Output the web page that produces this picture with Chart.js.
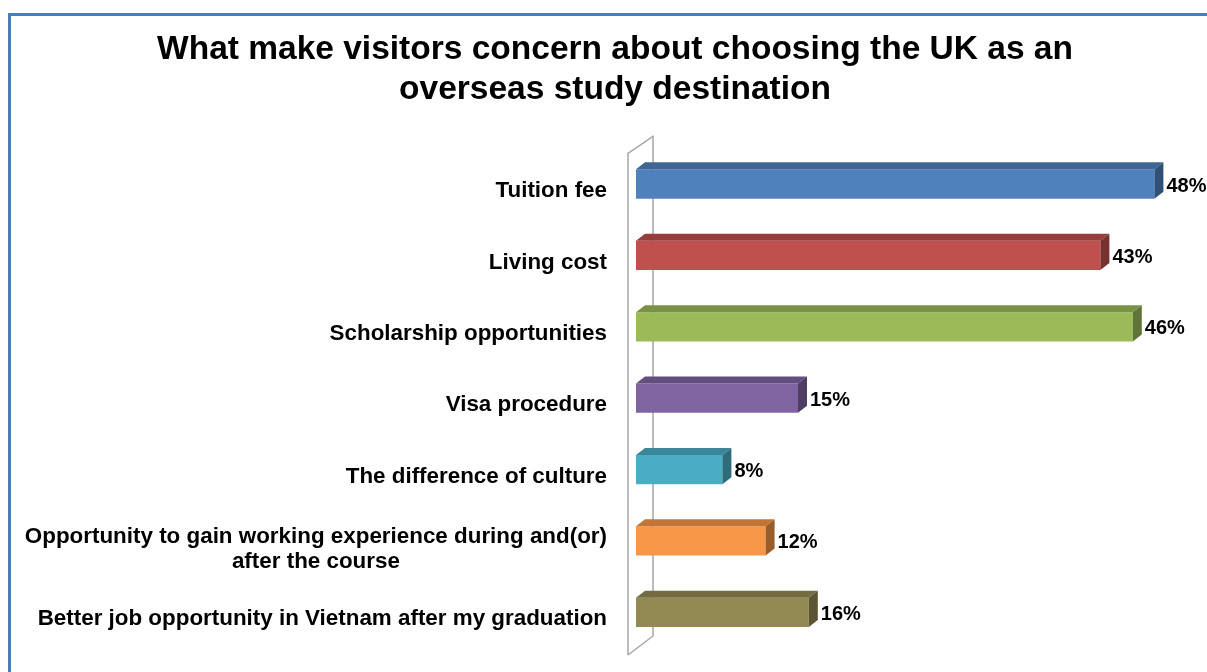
<!DOCTYPE html>
<html>
<head>
<meta charset="utf-8">
<title>UK study concerns</title>
<script src="https://cdn.jsdelivr.net/npm/chart.js@4.4.1/dist/chart.umd.min.js"></script>
<style>
    html, body { margin: 0; padding: 0; background: #fff; }
    #wrap { position: relative; width: 1207px; height: 672px; }
</style>
</head>
<body>
<div id="wrap"><canvas id="concernChart"></canvas></div>
<script>
// --- survey data ---
const categories = [
    'Tuition fee',
    'Living cost',
    'Scholarship opportunities',
    'Visa procedure',
    'The difference of culture',
    ['Opportunity to gain working experience during and(or)', 'after the course'],
    'Better job opportunity in Vietnam after my graduation'
];
const percentages = [48, 43, 46, 15, 8, 12, 16];

// Office-style palette, one colour per bar
const barColors = ['#4F81BD', '#C0504D', '#9BBB59', '#8064A2', '#4BACC6', '#F79646', '#938953'];

const FONT = '"Liberation Sans", Arial, sans-serif';
const DEPTH_X = 9, DEPTH_Y = -7;

function shade(hex, f) {
    const n = parseInt(hex.slice(1), 16);
    const r = Math.round(((n >> 16) & 255) * f);
    const g = Math.round(((n >> 8) & 255) * f);
    const b = Math.round((n & 255) * f);
    return `rgb(${r},${g},${b})`;
}

// frame round the whole chart
const framePlugin = {
    id: 'frame',
    afterDraw(chart) {
        const ctx = chart.ctx;
        ctx.save();
        ctx.strokeStyle = '#4A7EBB';
        ctx.lineWidth = 3;
        ctx.strokeRect(9.5, 14.5, 1240, 700);
        ctx.restore();
    }
};

// the open 3D wall behind the bars
const wallPlugin = {
    id: 'wall',
    beforeDatasetsDraw(chart) {
        const {ctx, chartArea: a} = chart;
        const fx = a.left - 8, bx = a.left + 17;
        ctx.save();
        ctx.strokeStyle = '#A6A6A6';
        ctx.lineWidth = 1.5;
        ctx.beginPath();
        ctx.moveTo(fx, a.bottom + 7);
        ctx.lineTo(fx, a.top + 5);
        ctx.lineTo(bx, a.top - 12);
        ctx.lineTo(bx, a.bottom - 12);
        ctx.lineTo(fx, a.bottom + 7);
        ctx.stroke();
        ctx.restore();
    }
};

// top and side faces, value labels and category labels
const bar3dPlugin = {
    id: 'bar3d',
    afterDatasetsDraw(chart) {
        const ctx = chart.ctx;
        const meta = chart.getDatasetMeta(0);
        ctx.save();
        meta.data.forEach((bar, i) => {
            const p = bar.getProps(['x', 'y', 'base', 'height'], true);
            const x0 = p.base, x1 = p.x;
            const y0 = p.y - p.height / 2, y1 = p.y + p.height / 2;
            const c = barColors[i];

            ctx.fillStyle = shade(c, 0.78);
            ctx.beginPath();
            ctx.moveTo(x0, y0);
            ctx.lineTo(x0 + DEPTH_X, y0 + DEPTH_Y);
            ctx.lineTo(x1 + DEPTH_X, y0 + DEPTH_Y);
            ctx.lineTo(x1, y0);
            ctx.closePath();
            ctx.fill();

            ctx.fillStyle = shade(c, 0.62);
            ctx.beginPath();
            ctx.moveTo(x1, y0);
            ctx.lineTo(x1 + DEPTH_X, y0 + DEPTH_Y);
            ctx.lineTo(x1 + DEPTH_X, y1 + DEPTH_Y);
            ctx.lineTo(x1, y1);
            ctx.closePath();
            ctx.fill();

            ctx.fillStyle = '#000';
            ctx.font = 'bold 20px ' + FONT;
            ctx.textAlign = 'left';
            ctx.textBaseline = 'middle';
            ctx.fillText(percentages[i] + '%', x1 + DEPTH_X + 3, p.y + 2);
        });

        // category names, right aligned; wrapped names centred on their own width
        const yScale = chart.scales.y;
        const right = chart.chartArea.left - 29;
        ctx.font = 'bold 22.4px ' + FONT;
        ctx.textBaseline = 'middle';
        categories.forEach((label, i) => {
            const lines = Array.isArray(label) ? label : [label];
            const yc = yScale.getPixelForValue(i) + (lines.length > 1 ? 8 : 7);
            const lh = 25;
            const widest = Math.max(...lines.map(l => ctx.measureText(l).width));
            lines.forEach((l, k) => {
                const y = yc + (k - (lines.length - 1) / 2) * lh;
                if (lines.length > 1) {
                    ctx.textAlign = 'center';
                    ctx.fillText(l, right - widest / 2, y);
                } else {
                    ctx.textAlign = 'right';
                    ctx.fillText(l, right, y);
                }
            });
        });
        ctx.restore();
    }
};

const ctx = document.getElementById('concernChart').getContext('2d');
new Chart(ctx, {
    type: 'bar',
    data: {
        labels: categories,
        datasets: [{
            data: percentages,
            backgroundColor: barColors,
            borderWidth: 0,
            barPercentage: 0.41,
            categoryPercentage: 1
        }]
    },
    options: {
        indexAxis: 'y',
        responsive: true,
        maintainAspectRatio: false,
        animation: false,
        layout: { padding: { left: 54, right: 31, top: 0, bottom: 24 } },
        scales: {
            x: { display: false, min: 0, max: 50 },
            y: {
                display: true,
                ticks: { display: false },
                grid: { display: false },
                border: { display: false },
                afterFit: scale => { scale.width = 582; }
            }
        },
        plugins: {
            legend: { display: false },
            tooltip: { enabled: false },
            title: {
                display: true,
                text: ['What make visitors concern about choosing the UK as an', 'overseas study destination'],
                color: '#000',
                font: { family: FONT, size: 33.5, weight: 'bold', lineHeight: 1.2 },
                padding: { top: 29.5, bottom: 38.4 }
            }
        }
    },
    plugins: [framePlugin, wallPlugin, bar3dPlugin]
});
</script>
</body>
</html>
